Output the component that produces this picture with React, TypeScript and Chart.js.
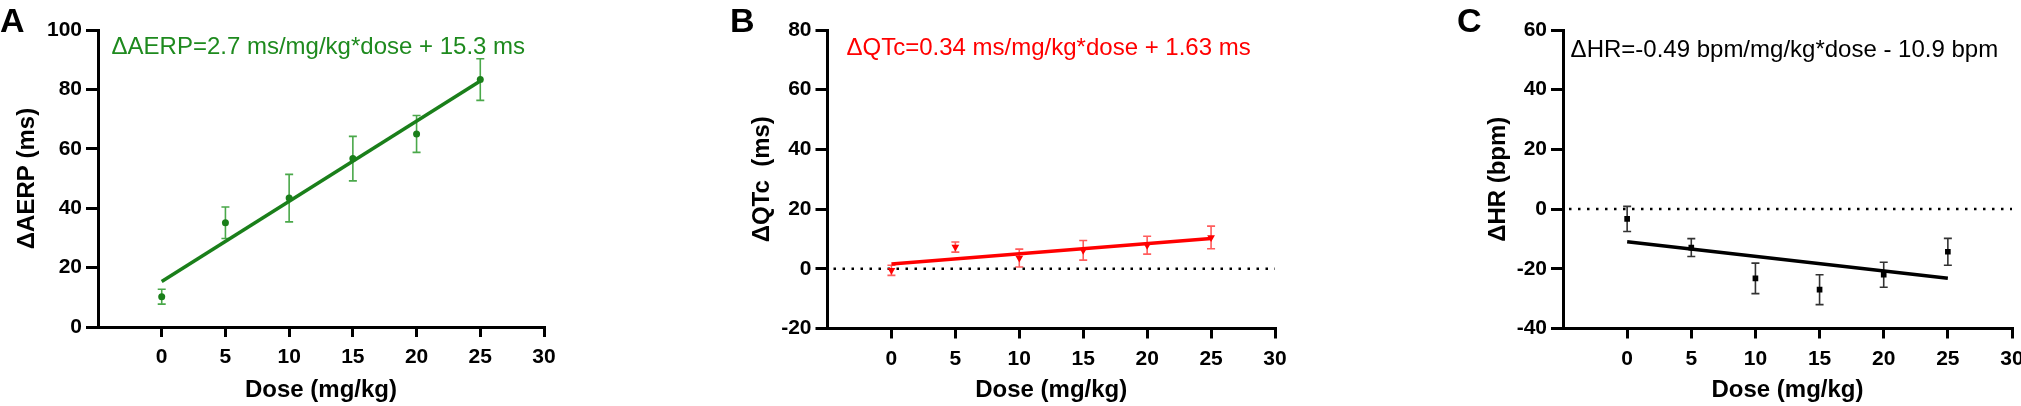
import React, { useEffect, useRef } from 'react';
import { Chart, registerables } from 'chart.js';

Chart.register(...registerables);

const FONT = '"Liberation Sans", Arial, Helvetica, sans-serif';
Chart.defaults.font.family = FONT;

// shared x values
const doses = [0, 5, 10, 15, 20, 25];
const xTicks = [0, 5, 10, 15, 20, 25, 30];
const fitDoses = [0, 25];
const refLineX = [-5, 30];

// A - AERP
const aerpMean = [10.2, 35.1, 43.4, 56.7, 65.0, 83.3];
const aerpSem = [2.5, 5.3, 8.0, 7.5, 6.2, 7.0];
const aerpFit = [15.3, 82.8];
const aerpTicks = [0, 20, 40, 60, 80, 100];

// B - QTc
const qtcMean = [-0.5, 7.3, 3.6, 6.2, 7.9, 10.5];
const qtcSem = [1.7, 1.7, 3.0, 3.3, 3.0, 3.8];
const qtcFit = [1.63, 10.13];
const qtcTicks = [-20, 0, 20, 40, 60, 80];

// C - HR
const hrMean = [-3.3, -12.9, -23.2, -27.0, -22.0, -14.3];
const hrSem = [4.2, 3.0, 5.1, 5.0, 4.2, 4.5];
const hrFit = [-10.9, -23.15];
const hrTicks = [-40, -20, 0, 20, 40, 60];

type Panel = {
  letter: string;
  equation: string;
  yTitle: string;
  mean: number[];
  sem: number[];
  fit: number[];
  yTicks: number[];
  color: string;
  barColor: string;
  textColor: string;
  pointStyle: string;
  pointRotation: number;
  pointRadius: number;
  zeroLine: boolean;
  left: number;
  width: number;
  axisWidth: number;
  padRight: number;
  titlePad: number;
  bottom: number;
  letterX: number;
  eqX: number;
  eqY: number;
};

const panels: Panel[] = [
  {
    letter: 'A', equation: '\u0394AERP=2.7 ms/mg/kg*dose + 15.3 ms', yTitle: '\u0394AERP (ms)',
    mean: aerpMean, sem: aerpSem, fit: aerpFit, yTicks: aerpTicks,
    color: '#1a7f1a', barColor: '#4aa84a', textColor: '#1e8a1e',
    pointStyle: 'circle', pointRotation: 0, pointRadius: 3.5, zeroLine: false,
    left: 0, width: 565, axisWidth: 98, padRight: 21, titlePad: 12.6, bottom: 327,
    letterX: 0, eqX: 13.5, eqY: 54,
  },
  {
    letter: 'B', equation: '\u0394QTc=0.34 ms/mg/kg*dose + 1.63 ms', yTitle: '\u0394QTc  (ms)',
    mean: qtcMean, sem: qtcSem, fit: qtcFit, yTicks: qtcTicks,
    color: '#ff0000', barColor: '#ff5c5c', textColor: '#ff0000',
    pointStyle: 'triangle', pointRotation: 180, pointRadius: 4.5, zeroLine: true,
    left: 700, width: 595, axisWidth: 127.5, padRight: 20, titlePad: 47.6, bottom: 328.5,
    letterX: 30, eqX: 19, eqY: 55,
  },
  {
    letter: 'C', equation: '\u0394HR=-0.49 bpm/mg/kg*dose - 10.9 bpm', yTitle: '\u0394HR (bpm)',
    mean: hrMean, sem: hrSem, fit: hrFit, yTicks: hrTicks,
    color: '#000000', barColor: '#333333', textColor: '#000000',
    pointStyle: 'rect', pointRotation: 0, pointRadius: 4, zeroLine: true,
    left: 1440, width: 581, axisWidth: 123, padRight: 9, titlePad: 43.6, bottom: 328.5,
    letterX: 17, eqX: 7.6, eqY: 57,
  },
];

// error bars under the points, panel letter and fit equation on top
const annotate = {
  id: 'annotate',
  beforeDatasetsDraw(chart: any) {
    const { ctx } = chart;
    const xs = chart.scales.x;
    const ys = chart.scales.y;
    chart.data.datasets.forEach((ds: any) => {
      if (!ds.errors) return;
      ctx.save();
      ctx.strokeStyle = ds.errorColor;
      ctx.lineWidth = 1.6;
      ds.data.forEach((p: any, j: number) => {
        const px = xs.getPixelForValue(p.x);
        const top = ys.getPixelForValue(p.y + ds.errors[j]);
        const bot = ys.getPixelForValue(p.y - ds.errors[j]);
        ctx.beginPath();
        ctx.moveTo(px, top); ctx.lineTo(px, bot);
        ctx.moveTo(px - 4, top); ctx.lineTo(px + 4, top);
        ctx.moveTo(px - 4, bot); ctx.lineTo(px + 4, bot);
        ctx.stroke();
      });
      ctx.restore();
    });
  },
  afterDraw(chart: any, _args: any, opts: any) {
    const { ctx, chartArea } = chart;
    ctx.save();
    ctx.textAlign = 'left';
    ctx.textBaseline = 'alphabetic';
    ctx.fillStyle = '#000';
    ctx.font = `bold 34px ${FONT}`;
    ctx.fillText(opts.letter, opts.letterX, 32);
    ctx.fillStyle = opts.color;
    ctx.font = `24px ${FONT}`;
    ctx.fillText(opts.equation, chartArea.left + opts.eqX, opts.eqY);
    ctx.restore();
  },
};

const PanelChart: React.FC<{ p: Panel }> = ({ p }) => {
  const ref = useRef<HTMLCanvasElement>(null);

  useEffect(() => {
    if (!ref.current) return;

    const datasets: any[] = [
      {
        data: doses.map((x, i) => ({ x, y: p.mean[i] })),
        errors: p.sem,
        errorColor: p.barColor,
        showLine: false,
        pointStyle: p.pointStyle,
        pointRotation: p.pointRotation,
        pointRadius: p.pointRadius,
        backgroundColor: p.color,
        borderColor: p.color,
        borderWidth: 0,
      },
      {
        data: fitDoses.map((x, i) => ({ x, y: p.fit[i] })),
        showLine: true,
        pointRadius: 0,
        borderColor: p.color,
        borderWidth: 3.5,
      },
    ];
    if (p.zeroLine) {
      datasets.push({
        data: refLineX.map(x => ({ x, y: 0 })),
        showLine: true,
        pointRadius: 0,
        borderColor: '#000',
        borderWidth: 2.5,
        borderDash: [2.5, 6.5],
        borderDashOffset: 3,
      });
    }

    const chart = new Chart(ref.current, {
      type: 'scatter',
      data: { datasets },
      plugins: [annotate],
      options: {
        animation: false,
        responsive: true,
        maintainAspectRatio: false,
        layout: { padding: { top: 30, right: p.padRight, left: 0, bottom: 0 } },
        plugins: {
          legend: { display: false },
          tooltip: { enabled: false },
          annotate: { letter: p.letter, letterX: p.letterX, equation: p.equation, color: p.textColor, eqX: p.eqX, eqY: p.eqY },
        } as any,
        scales: {
          x: {
            type: 'linear',
            min: -5,
            max: 30,
            afterBuildTicks: (s: any) => { s.ticks = xTicks.map(value => ({ value })); },
            afterFit: (s: any) => { s.height = 406 - p.bottom; s.paddingLeft = 0; s.paddingRight = 0; },
            grid: { drawOnChartArea: false, drawTicks: true, tickLength: 10, color: '#000', lineWidth: 3 },
            border: { display: true, color: '#000', width: 3 },
            ticks: { color: '#000', font: { size: 21, weight: 'bold' }, padding: 8, maxRotation: 0, autoSkip: false },
            title: { display: true, text: 'Dose (mg/kg)', color: '#000', font: { size: 24, weight: 'bold' }, padding: { top: 0, bottom: 1 } },
          },
          y: {
            type: 'linear',
            min: p.yTicks[0],
            max: p.yTicks[p.yTicks.length - 1],
            afterBuildTicks: (s: any) => { s.ticks = p.yTicks.map(value => ({ value })); },
            afterFit: (s: any) => { s.width = p.axisWidth; s.paddingTop = 0; s.paddingBottom = 0; },
            grid: { drawOnChartArea: false, drawTicks: true, tickLength: 12, color: '#000', lineWidth: 3 },
            border: { display: true, color: '#000', width: 3 },
            ticks: { color: '#000', font: { size: 21, weight: 'bold' }, padding: 4 },
            title: { display: true, text: p.yTitle, color: '#000', font: { size: 24, weight: 'bold' }, padding: { top: p.titlePad, bottom: 0 } },
          },
        },
      } as any,
    });

    return () => chart.destroy();
  }, [p]);

  return (
    <div style={{ position: 'absolute', left: p.left, top: 0, width: p.width, height: 406 }}>
      <canvas ref={ref}></canvas>
    </div>
  );
};

const App: React.FC = () => (
  <div style={{ position: 'absolute', left: 0, top: 0, width: 2021, height: 406, overflow: 'hidden', background: '#fff' }}>
    {panels.map(p => <PanelChart key={p.letter} p={p} />)}
  </div>
);

export default App;
